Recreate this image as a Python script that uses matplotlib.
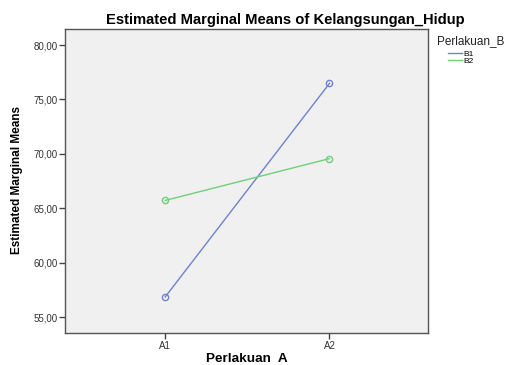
import numpy as np
import matplotlib.pyplot as plt

# Datos
niveles_a = ['A1', 'A2']
b1 = [56.87, 76.47]
b2 = [65.73, 69.57]
series = ['B1', 'B2']
yticks = [55, 60, 65, 70, 75, 80]

plt.rcParams['font.family'] = ['Liberation Sans', 'DejaVu Sans']

fig = plt.figure(figsize=(5.05, 3.65), dpi=100)
ax = fig.add_axes([65/505, 1 - 333/365, (428 - 65)/505, (333 - 29)/365])
ax.set_facecolor('#f0f0f0')

x = np.arange(len(niveles_a))
ax.plot(x, b1, color='#7081d0', linewidth=1, marker='o', markersize=4.5,
        markerfacecolor='none', markeredgewidth=1, label=series[0])
ax.plot(x, b2, color='#72cf7a', linewidth=1, marker='o', markersize=4.5,
        markerfacecolor='none', markeredgewidth=1, label=series[1])

ax.set_xlim(-0.61, 1.60)
ax.set_ylim(53.56, 81.47)
ax.set_xticks(x)
ax.set_xticklabels(niveles_a, fontsize=7, color='#333333')
ax.set_yticks(yticks)
ax.set_yticklabels(['%d,00' % v for v in yticks], fontsize=7, color='#333333')
ax.tick_params(direction='out', length=4, width=1, color='#444444', pad=1.5)

for s in ax.spines.values():
    s.set_color('#555555')
    s.set_linewidth(1)

fig.text(285/505, 1 - 20/365, 'Estimated Marginal Means of Kelangsungan_Hidup',
         ha='center', va='center', fontsize=10.6, fontweight='bold')
fig.text(17.5/505, 1 - 180/365, 'Estimated Marginal Means', rotation=90,
         ha='center', va='center', fontsize=8.5, fontweight='bold',
         fontstretch='condensed')
fig.text(247/505, 1 - 359/365, 'Perlakuan  A', ha='center', va='center',
         fontsize=9.7, fontweight='bold')

# Leyenda
fig.text(437/505, 1 - 41/365, 'Perlakuan_B', ha='left', va='center',
         fontsize=8.5, color='#222222')
leg = ax.legend(loc='upper left', bbox_to_anchor=(1.055, 0.932), frameon=False,
                fontsize=6, handlelength=1.7, handletextpad=0.1,
                labelspacing=-0.08, borderpad=0, borderaxespad=0.0)
for h in leg.legend_handles:
    h.set_marker('')

fig.savefig('out.png', dpi=100)
